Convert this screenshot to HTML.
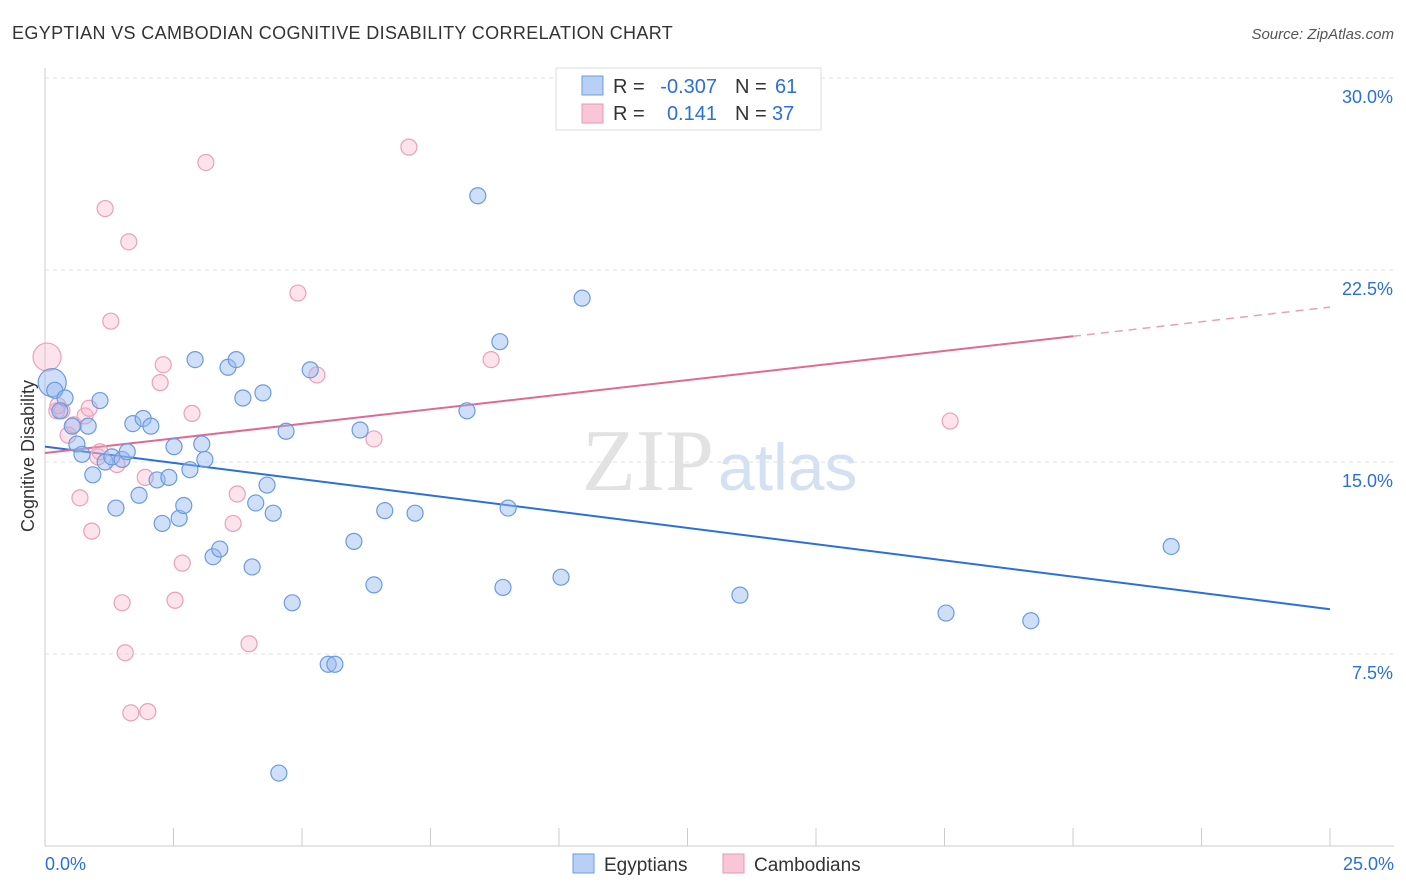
<!DOCTYPE html>
<html><head><meta charset="utf-8"><style>
body{margin:0;background:#fff;font-family:"Liberation Sans",sans-serif;}
</style></head><body>
<svg id="chart" width="1406" height="892" xmlns="http://www.w3.org/2000/svg" style="display:block">
<text x="12" y="39" font-size="18" fill="#333" letter-spacing="0.35">EGYPTIAN VS CAMBODIAN COGNITIVE DISABILITY CORRELATION CHART</text>
<text x="1394" y="39" font-size="15" fill="#555" font-style="italic" text-anchor="end">Source: ZipAtlas.com</text>
<text x="714" y="490" font-size="88" fill="#e2e2e2" text-anchor="end" font-family="Liberation Serif,serif">ZIP</text>
<text x="718" y="490" font-size="66" fill="#d4e1f3">atlas</text>
<g id="grid"></g><g id="axes"></g><g id="lines"></g><g id="points"></g>
<text transform="translate(34,456) rotate(-90)" font-size="18" fill="#333" text-anchor="middle">Cognitive Disability</text>
<g>
<rect x="556" y="68" width="265" height="62" fill="#fff" stroke="#ddd"/>
<rect x="582" y="76" width="21" height="19" fill="#b8d0f4" stroke="#6a9be0"/>
<rect x="582" y="104" width="21" height="19" fill="#f8c6d6" stroke="#e89ab3"/>
<text x="613" y="93" font-size="20" fill="#333">R =</text>
<text x="717" y="93" font-size="20" fill="#2a6fdb" text-anchor="end">-0.307</text>
<text x="735" y="93" font-size="20" fill="#333">N =</text>
<text x="775" y="93" font-size="20" fill="#2a6fdb">61</text>
<text x="613" y="120" font-size="20" fill="#333">R =</text>
<text x="717" y="120" font-size="20" fill="#2a6fdb" text-anchor="end">0.141</text>
<text x="735" y="120" font-size="20" fill="#333">N =</text>
<text x="772" y="120" font-size="20" fill="#2a6fdb">37</text>
</g>
<g>
<rect x="573" y="854" width="21" height="19" fill="#b8d0f4" stroke="#6a9be0"/>
<text x="604" y="871" font-size="19" fill="#333">Egyptians</text>
<rect x="723" y="854" width="21" height="19" fill="#f8c6d6" stroke="#e89ab3"/>
<text x="754" y="871" font-size="19" fill="#333">Cambodians</text>
</g>
</svg>
<script>
const yTicks=[7.5,15,22.5,30];
const yTickLabels=["7.5%","15.0%","22.5%","30.0%"];
const xTickLabels=["0.0%","25.0%"];
const egyX=[0.14,0.19,0.39,0.29,0.84,0.53,1.07,0.62,0.72,0.93,1.17,1.30,1.50,1.60,1.71,1.91,2.06,1.38,1.83,2.18,2.28,2.41,2.51,2.61,2.70,2.82,2.92,3.05,3.11,3.27,3.40,3.56,3.72,3.85,4.03,4.10,4.24,4.32,4.44,4.69,4.81,5.16,5.51,5.64,6.01,6.13,6.40,6.61,7.20,8.21,8.42,8.85,8.91,9.01,10.04,10.45,13.52,17.53,19.18,21.91,4.55];
const egyY=[18.1,17.8,17.5,17.0,16.4,16.4,17.4,15.7,15.3,14.5,15.0,15.2,15.1,15.4,16.5,16.7,16.4,13.2,13.7,14.3,12.6,14.4,15.6,12.8,13.3,14.7,19.0,15.7,15.1,11.3,11.6,18.7,19.0,17.5,10.9,13.4,17.7,14.1,13.0,16.2,9.5,18.6,7.1,7.1,11.9,16.25,10.2,13.1,13.0,17.0,25.4,19.7,10.1,13.2,10.5,21.4,9.8,9.1,8.8,11.7,2.85];
const camX=[0.04,0.23,0.33,0.45,0.56,0.68,0.78,0.86,0.91,1.03,1.17,1.28,1.40,1.50,1.56,1.63,1.67,1.95,2.00,2.24,2.30,2.53,2.67,2.86,3.13,3.66,3.74,3.97,4.92,5.29,6.40,7.08,8.68,17.61,1.07,0.25];
const camY=[19.1,17.0,17.0,16.05,16.45,13.6,16.8,17.1,12.3,15.2,24.9,20.5,14.9,9.5,7.55,23.6,5.2,14.4,5.25,18.1,18.8,9.6,11.05,16.9,26.7,12.6,13.75,7.9,21.6,18.4,15.9,27.3,19.0,16.6,15.4,17.2];
const egyTrend=[15.6,9.25];
const camTrend=[15.35,21.05];
const NS="http://www.w3.org/2000/svg";
const sx=v=>45+v/25*1285, sy=v=>846-v/30*768;
function mk(tag,attrs,parent){const e=document.createElementNS(NS,tag);for(const k in attrs)e.setAttribute(k,attrs[k]);document.getElementById(parent).appendChild(e);return e;}
yTicks.forEach((t,i)=>{
 const g=mk('line',{x1:45,x2:1394,y1:sy(t),y2:sy(t),stroke:'#e2e2e2','stroke-dasharray':'4,4'},'grid');
 
 
 const l=mk('text',{x:1393,y:sy(t)+25,'font-size':18,fill:'#2a6fdb','text-anchor':'end'},'grid');
 l.textContent=yTickLabels[i];
 
 
});
const ax=mk('line',{x1:45,x2:45,y1:68,y2:846,stroke:'#ccc'},'axes');


const bx=mk('line',{x1:45,x2:1394,y1:846,y2:846,stroke:'#ccc'},'axes');


for(let i=1;i<=10;i++){const t=mk('line',{x1:sx(i*2.5),x2:sx(i*2.5),y1:828,y2:846,stroke:'#ccc'},'axes');
 
 }
[[0,'start',45],[25,'end',1394]].forEach((d,i)=>{const t=mk('text',{x:d[2],y:870,'font-size':18,fill:'#2a6fdb','text-anchor':d[1]},'axes');t.textContent=xTickLabels[i];
 
 });
function pts(xs,ys,fill,stroke,name){xs.forEach((x,i)=>{const r=(i===0)?14:8;const c=mk('circle',{cx:sx(x),cy:sy(ys[i]),r:r,fill:fill,stroke:stroke,'stroke-width':1.2},'points');
 
 });}
pts(camX,camY,'rgba(245,175,200,0.35)','#eaa0ba','cambodian-point');
pts(egyX,egyY,'rgba(150,185,240,0.45)','#6a9be0','egyptian-point');
const bl=mk('line',{x1:sx(0),y1:sy(egyTrend[0]),x2:sx(25),y2:sy(egyTrend[1]),stroke:'#2a6fdb','stroke-width':2},'lines');


const cy20=camTrend[0]+(camTrend[1]-camTrend[0])*0.8;
const pl=mk('line',{x1:sx(0),y1:sy(camTrend[0]),x2:sx(20),y2:sy(cy20),stroke:'#e06a93','stroke-width':2},'lines');


const pd=mk('line',{x1:sx(20),y1:sy(cy20),x2:sx(25),y2:sy(camTrend[1]),stroke:'#e8a0b8','stroke-width':1.5,'stroke-dasharray':'8,6'},'lines');


</script>
</body></html>
